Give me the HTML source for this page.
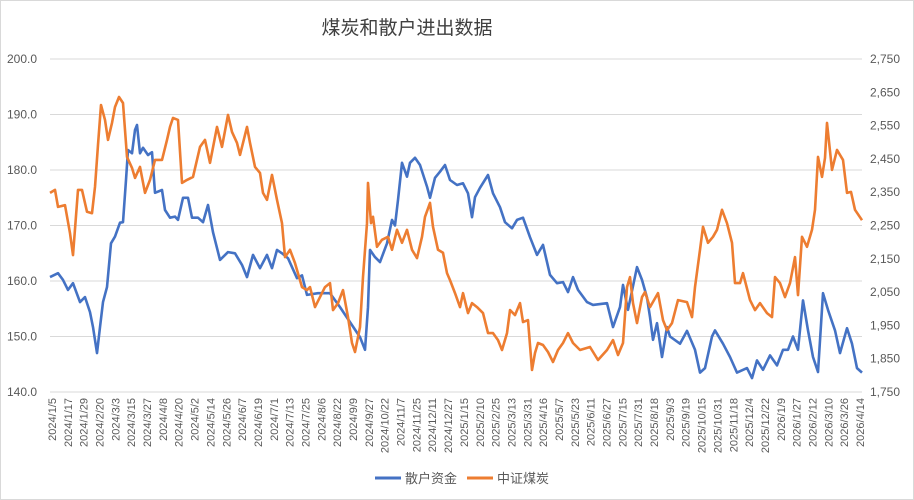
<!DOCTYPE html>
<html><head><meta charset="utf-8"><style>
body{margin:0;background:#fff}
svg{display:block;font-family:"Liberation Sans","Noto Sans CJK SC",sans-serif}
</style></head><body>
<svg width="914" height="500">
<rect x="0.5" y="0.5" width="913" height="499" fill="#fff" stroke="#d9d9d9"/>
<text x="407" y="34" font-size="19" fill="#404040" text-anchor="middle">煤炭和散户进出数据</text>
<g id="grid"></g><g id="yl"></g><g id="yr"></g><g id="xl"></g><g id="lines"></g>
<g>
<line x1="375" y1="478" x2="401" y2="478" stroke="#4472c4" stroke-width="3"/>
<text x="405" y="483" font-size="13" fill="#595959">散户资金</text>
<line x1="467" y1="478" x2="493" y2="478" stroke="#ed7d31" stroke-width="3"/>
<text x="497" y="483" font-size="13" fill="#595959">中证煤炭</text>
</g>
</svg>
<script>
const dateLabels=["2024/1/5","2024/1/17","2024/1/29","2024/2/20","2024/3/3","2024/3/15","2024/3/27","2024/4/8","2024/4/20","2024/5/2","2024/5/14","2024/5/26","2024/6/7","2024/6/19","2024/7/1","2024/7/13","2024/7/25","2024/8/6","2024/8/22","2024/9/9","2024/9/27","2024/10/22","2024/11/7","2024/11/25","2024/12/11","2024/12/27","2025/1/15","2025/2/10","2025/2/25","2025/3/13","2025/3/31","2025/4/16","2025/5/7","2025/5/23","2025/6/11","2025/6/27","2025/7/15","2025/7/31","2025/8/18","2025/9/3","2025/9/19","2025/10/15","2025/10/31","2025/11/18","2025/12/4","2025/12/22","2026/1/9","2026/1/27","2026/2/12","2026/3/10","2026/3/26","2026/4/14"];
const leftTicks=[140,150,160,170,180,190,200];
const rightTicks=[1750,1850,1950,2050,2150,2250,2350,2450,2550,2650,2750];
const dayCount=812;
const retailDay=[0,8,13,18,23,30,35,40,43,47,50,53,57,61,65,70,73,76,78,82,85,87,90,93,98,102,105,112,115,120,125,128,133,138,142,148,153,158,163,170,178,185,192,197,203,210,217,222,227,232,238,247,252,257,268,280,290,300,310,315,318,320,325,330,337,342,345,348,352,357,360,365,370,377,380,385,390,395,400,407,413,418,422,425,430,438,443,450,455,462,467,473,480,487,493,500,507,513,518,523,528,537,543,557,563,570,573,578,587,592,597,600,603,607,612,617,620,630,637,645,650,655,662,665,673,680,687,697,702,707,713,720,727,733,738,743,748,753,758,763,768,773,778,785,790,797,802,807,812];
const retailVal=[160.7,161.4,160.2,158.4,159.6,156.2,157.1,154.4,151.7,147,151.7,156.2,158.9,166.8,168,170.5,170.6,178.2,183.6,183,187.2,188.1,183,184,182.7,183.2,175.9,176.4,172.8,171.4,171.6,171,175,175,171.4,171.4,170.6,173.7,168.8,163.8,165.2,165,162.9,160.7,164.7,162.3,164.7,162.3,165.6,165,164.1,160.5,161,157.5,157.8,157.8,155.3,152.6,149.9,147.6,155.3,165.6,164.3,163.4,166.8,171,170,174.6,181.3,178.8,181.3,182.2,180.9,177,175,178.6,179.7,180.9,178.2,177.3,177.6,175.8,171.5,175.1,176.8,179.1,175.8,173.3,170.6,169.5,171,171.4,167.9,164.7,166.5,161.1,159.6,159.8,158,160.7,158.4,156.2,155.7,156,151.7,155.3,159.3,154.8,162.5,160.2,157,153.5,149.4,152.4,146.3,151.7,150,148.7,151,147.6,143.5,144.3,150,151.1,148.7,146.3,143.5,144.3,142.5,145.7,144,146.6,144.8,147.6,147.6,150,147.6,156.5,151.1,146.3,143.6,157.8,154.8,151.1,147,151.5,148.7,144.3,143.5,141.6];
const coalDay=[0,5,8,15,20,23,28,32,37,42,45,48,51,55,58,62,65,69,73,77,82,85,90,95,100,105,112,117,120,123,128,132,137,143,150,155,160,167,172,178,182,187,190,193,197,200,205,210,213,217,222,227,232,235,240,245,252,257,260,265,270,275,280,283,288,293,298,302,305,310,313,317,318,321,323,327,332,338,342,347,352,357,362,367,372,375,380,383,388,393,397,400,405,410,413,418,422,427,433,438,443,448,452,457,460,465,470,473,478,482,485,488,493,498,503,508,513,518,523,530,540,548,557,563,568,573,577,580,583,587,592,595,600,608,613,617,622,628,637,642,645,650,653,658,663,667,672,677,682,685,690,693,700,705,710,717,722,725,730,735,740,745,748,752,757,762,765,768,772,775,777,782,787,793,797,801,805,812];
const coalVal=[2348,2357,2306,2311,2227,2161,2357,2357,2291,2287,2366,2492,2612,2567,2507,2558,2606,2636,2618,2456,2423,2393,2426,2348,2387,2447,2447,2507,2546,2573,2567,2378,2387,2396,2486,2507,2438,2546,2486,2582,2531,2498,2462,2498,2546,2498,2426,2408,2348,2327,2402,2327,2257,2155,2177,2137,2065,2056,2065,2005,2035,2065,2077,1996,2017,2056,1975,1897,1870,1945,2095,2257,2378,2257,2276,2186,2207,2216,2177,2237,2198,2237,2177,2152,2216,2276,2318,2246,2177,2168,2107,2086,2047,2005,2047,1987,2017,2005,1987,1927,1927,1906,1876,1927,1996,1981,2017,1960,1966,1816,1867,1897,1891,1870,1840,1876,1897,1927,1897,1876,1885,1846,1876,1906,1861,1897,2065,2095,2017,1957,2035,2050,2005,2047,1966,1936,1957,2026,2020,1975,2065,2177,2246,2198,2216,2237,2297,2257,2198,2077,2077,2107,2026,1996,2017,1987,1975,2095,2077,2035,2077,2155,2041,2216,2186,2237,2297,2456,2396,2453,2558,2417,2477,2447,2348,2351,2297,2266];

const NS="http://www.w3.org/2000/svg";
const X0=50,X1=862,Y0=392,Y1=59;
const xs=d=>X0+d/dayCount*(X1-X0);
const yL=v=>Y0-(v-140)/60*(Y0-Y1);
const yR=v=>Y0-(v-1750)/1000*(Y0-Y1);
function mk(tag,attrs,parent){const e=document.createElementNS(NS,tag);for(const k in attrs)e.setAttribute(k,attrs[k]);parent.appendChild(e);return e;}
const grid=document.getElementById('grid'),yl=document.getElementById('yl'),yr=document.getElementById('yr'),xl=document.getElementById('xl'),lines=document.getElementById('lines');
leftTicks.forEach(v=>{
  const l=mk('line',{x1:X0,x2:X1,y1:yL(v),y2:yL(v),stroke:'#d9d9d9','stroke-width':1},grid);
  
  
  const t=mk('text',{x:37,y:yL(v)+4,'font-size':12,fill:'#595959','text-anchor':'end'},yl);
  t.textContent=v.toFixed(1);
  
  
});
rightTicks.forEach(v=>{
  const t=mk('text',{x:870,y:yR(v)+4,'font-size':12,fill:'#595959'},yr);
  t.textContent=v.toLocaleString('en-US');
  
  
});
dateLabels.forEach((s,i)=>{
  const x=X0+2+i*(X1-X0-4)/(dateLabels.length-1);
  const t=mk('text',{x:0,y:0,'font-size':11,fill:'#595959','text-anchor':'end',transform:`translate(${x+4},398) rotate(-90)`},xl);
  t.textContent=s;
  
  
});
function path(days,vals,yf,color,name){
  const d=days.map((dd,i)=>(i?'L':'M')+xs(dd).toFixed(1)+','+yf(vals[i]).toFixed(1)).join('');
  const p=mk('path',{d:d,fill:'none',stroke:color,'stroke-width':2.6,'stroke-linejoin':'round'},lines);
  
  
}
path(retailDay,retailVal,yL,'#4472c4','retail-funds-line');
path(coalDay,coalVal,yR,'#ed7d31','csi-coal-line');
</script>
</body></html>
